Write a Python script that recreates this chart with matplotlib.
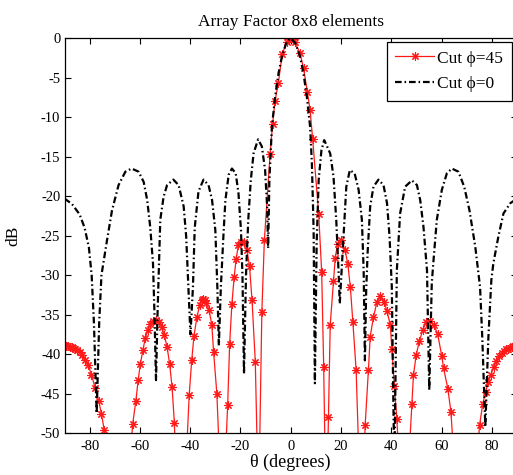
import matplotlib
matplotlib.use("Agg")
import matplotlib.pyplot as plt

plt.rcParams['font.family'] = ['Liberation Serif', 'DejaVu Serif']
plt.rcParams['axes.unicode_minus'] = False

# ---- data ----
# Cut phi=0 (black dash-dot); values below -50 are clipped nulls
theta_phi0 = [-90, -87, -84, -82, -80.3, -79.2, -78.3, -77.2, -76.2, -75.3, -73.1, -71.1,
              -68.5, -65.8, -63.3, -60.5, -58.5, -57.1, -55.9, -54.8, -54.2, -53.6, -53.0,
              -51.9, -50.6, -49.2, -46.7, -44.6, -42.6, -41.6, -40.7, -39.9, -38.9, -38.2,
              -36.7, -34.7, -32.7, -31.3, -30.0, -29.2, -28.6, -27.8, -26.8, -26.0, -24.7,
              -23.4, -21.9, -20.8, -19.8, -19.2, -18.6, -17.8, -16.9, -15.9, -14.8, -13.0,
              -11.5, -10.2, -9.4, -9.0, -8.5, -7.5, -6.2, -4.85, -3.5, -1.7, 0, 1.8, 3.6,
              5.0, 6.4, 7.7, 8.4, 9.1, 9.6, 10.3, 11.1, 12.2, 13.3, 14.6, 15.7, 17.0, 18.1,
              19.0, 19.5, 20.3, 21.0, 22.1, 23.5, 25.4, 27.0, 28.3, 29.0, 29.5, 30.0, 30.6,
              31.6, 32.9, 34.9, 36.9, 38.3, 39.3, 40.2, 41.2, 42.2, 43.5, 45.5, 48.2, 50.2,
              51.5, 52.8, 54.2, 55.1, 56.1, 56.8, 58.1, 60.1, 62.1, 64.1, 66.7, 69.0, 71.1,
              73.4, 75.3, 76.2, 77.4, 78.6, 79.8, 80.6, 82.6, 84.6, 87.3, 90]
db_phi0 = [-20.3, -21.0, -22.3, -24.0, -26.5, -30.0, -36.0, -47.5, -36.0, -30.0, -25.6, -21.8,
           -18.6, -16.9, -16.5, -16.9, -18.2, -20.5, -23.9, -28.5, -35.0, -43.3, -35.0,
           -23.0, -20.1, -18.6, -17.9, -18.6, -21.3, -25.1, -31.5, -37.5, -31.5, -24.0,
           -19.4, -17.9, -18.6, -20.5, -24.3, -31.5, -38.9, -31.5, -25.1, -20.5, -17.3,
           -16.5, -17.1, -19.6, -24.3, -30.2, -42.5, -30.0, -23.0, -18.0, -14.6, -12.8,
           -13.7, -16.7, -21.3, -26.6, -18.0, -11.2, -7.4, -4.4, -2.3, -0.5, 0.0, -0.6, -2.2,
           -4.3, -7.4, -11.2, -15.8, -24.3, -43.7, -26.0, -18.0, -14.2, -12.9, -13.8, -14.6,
           -17.5, -23.0, -29.4, -33.6, -29.0, -25.1, -18.8, -16.7, -17.1, -19.2, -23.0,
           -29.4, -40.8, -32.0, -27.0, -21.3, -18.8, -17.9, -18.6, -20.9, -25.1, -31.5,
           -55.0, -29.4, -22.2, -18.8, -18.0, -18.6, -20.5, -23.9, -29.4, -44.6, -31.0,
           -28.1, -23.0, -19.2, -17.1, -16.5, -16.9, -18.8, -21.8, -26.4, -31.5, -38.0,
           -49.2, -38.0, -30.6, -28.5, -25.1, -22.2, -20.9, -20.3]

# Cut phi=45 (red, asterisk markers); values below -50 are clipped nulls
theta_phi45 = [-90, -89.3, -88.6, -87.9, -87.2, -86.5, -85.7, -84.9, -84.0, -83.0, -81.9,
               -80.6, -79.3, -77.8, -76.4, -75.3, -74.2, -68.6,
               -62.9, -61.6, -60.7, -59.8, -58.8, -57.9, -56.9, -55.8, -54.6, -53.5, -52.4,
               -51.3, -50.3, -49.2, -48.2, -47.2, -46.3, -44.0,
               -40.4, -39.4, -38.5, -37.3, -36.2, -35.5, -34.9, -34.3, -33.6, -32.5, -31.4,
               -30.7, -29.4, -27.2,
               -25.1, -24.3, -23.4, -22.5, -21.7, -20.8, -19.7, -18.5, -17.4, -16.4, -15.4,
               -14.1, -12.8,
               -11.5, -10.5, -8.2, -7.2, -6.3, -4.9, -3.4, -1.6, -0.8, 0, 0.8, 1.6, 3.6, 5.1,
               6.6, 7.7, 8.7, 11.1, 12.3, 13.1, 14.1,
               15.0, 15.7, 17.0, 17.7, 18.6, 20.0, 21.6, 22.7, 23.7, 24.7, 26.0, 28.0,
               29.6, 30.9, 31.6, 32.9, 34.3, 35.6, 37.2, 38.3, 39.6, 40.2, 41.2, 42.2, 45.0,
               48.2, 48.8, 49.9, 51.2, 52.6, 53.9, 55.2, 56.8, 58.4, 60.1, 60.8, 62.5, 63.7,
               69.5,
               75.1, 76.4, 77.5, 78.5, 79.6, 80.7, 81.8, 82.9, 83.9, 84.8, 85.6, 86.4, 87.2,
               87.9, 88.6, 89.3, 90]
db_phi45 = [-38.9, -38.95, -39.0, -39.05, -39.1, -39.2, -39.3, -39.5, -39.7, -40.1, -40.7,
            -41.4, -42.6, -44.3, -45.9, -47.6, -49.6, -75.0,
            -48.9, -45.9, -43.3, -41.2, -39.5, -38.0, -37.0, -36.2, -35.8, -35.7, -36.0,
            -36.6, -37.6, -39.1, -41.2, -44.2, -48.7, -70.0,
            -45.2, -40.8, -37.7, -35.3, -33.8, -33.2, -33.0, -33.1, -33.5, -34.4, -36.3,
            -39.7, -45.0, -62.0,
            -46.5, -38.7, -33.6, -30.2, -27.9, -26.2, -25.8, -25.8, -26.8, -28.9, -33.2,
            -41.0, -60.0,
            -34.7, -25.6, -14.6, -10.8, -8.0, -5.6, -2.0, -0.5, -0.1, 0.0, -0.1, -0.5, -1.8,
            -3.8, -6.8, -9.1, -12.7, -22.2, -29.6, -41.6, -62.0,
            -48.0, -36.3, -30.8, -27.8, -26.1, -25.6, -26.8, -28.6, -31.5, -35.9, -42.0,
            -62.0,
            -49.0, -42.0, -37.8, -35.3, -33.4, -32.7, -33.4, -34.6, -36.3, -39.3, -44.0,
            -48.2, -65.0,
            -46.3, -42.7, -40.1, -38.3, -36.9, -35.9, -35.8, -36.3, -37.4, -40.3, -41.8,
            -44.4, -47.3, -75.0,
            -49.0, -46.3, -44.8, -43.6, -42.6, -41.7, -40.9, -40.3, -39.9, -39.6, -39.4,
            -39.3, -39.2, -39.1, -39.0, -38.95, -38.9]

xticks = [-80, -60, -40, -20, 0, 20, 40, 60, 80]
xticklabels = ['-80', '-60', '-40', '-20', '0', '20', '40', '60', '80']
yticks = [0, -5, -10, -15, -20, -25, -30, -35, -40, -45, -50]
yticklabels = ['0', '-5', '-10', '-15', '-20', '-25', '-30', '-35', '-40', '-45', '-50']

W, H = 513, 475
fig = plt.figure(figsize=(W / 100, H / 100), dpi=100)
ax = fig.add_axes([64.5 / W, (H - 433) / H, 452.5 / W, 394.7 / H])

ax.plot(theta_phi45, db_phi45, color='#ff1a1a', lw=0.9, marker=(8, 2, 0),
        markersize=6, markeredgewidth=0.8, label='Cut \u03d5=45')
ax.plot(theta_phi0, db_phi0, color='black', lw=1.6, dashes=(3, 1.3, 0.7, 1.3),
        label='Cut \u03d5=0')

ax.set_xlim(-90, 90)
ax.set_ylim(-50, 0)
ax.set_xticks(xticks)
ax.set_xticklabels(xticklabels)
ax.set_yticks(yticks)
ax.set_yticklabels(yticklabels)
ax.tick_params(direction='in', length=4, width=0.8, top=True, right=True,
               labelsize=10.5, pad=5)
ax.tick_params(axis='y', pad=3)
for s in ax.spines.values():
    s.set_linewidth(0.9)

ax.set_title('Array Factor 8x8 elements', fontsize=12.5, pad=9)
ax.set_xlabel('\u03b8 (degrees)', fontsize=13)
ax.xaxis.set_label_coords(0.5, -0.052)
ax.set_ylabel('dB', fontsize=12.5)
ax.yaxis.set_label_coords(-0.095, 0.5)

leg = ax.legend(loc='upper right', bbox_to_anchor=(511.5 / W, 1 - 41.7 / H),
                bbox_transform=fig.transFigure, fontsize=12.5, fancybox=False,
                edgecolor='black', framealpha=1, borderaxespad=0,
                handlelength=2.25, handletextpad=0.15, borderpad=0.5,
                labelspacing=0.55)
leg.get_frame().set_linewidth(0.9)

fig.savefig('out.png', dpi=100)
